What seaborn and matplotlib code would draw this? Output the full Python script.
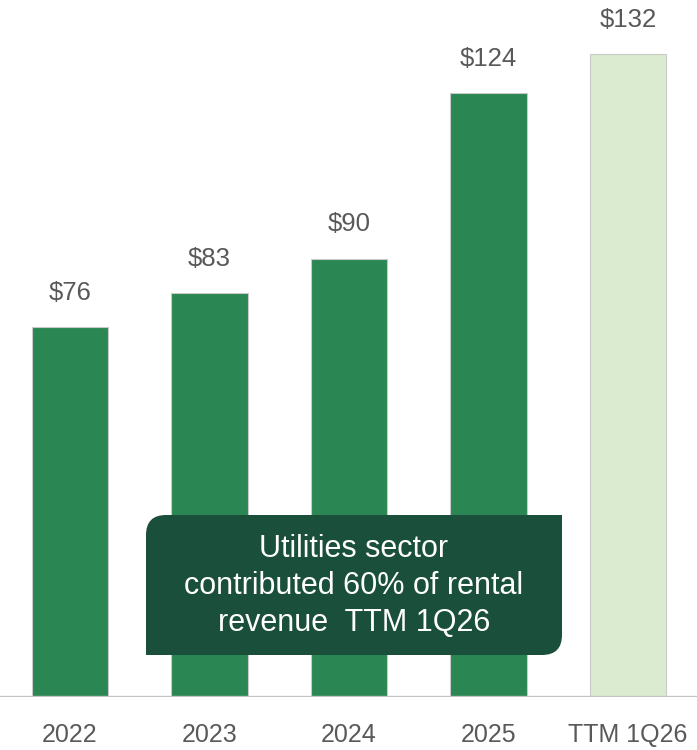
import matplotlib
matplotlib.use("Agg")
import matplotlib.pyplot as plt
import seaborn as sns
import pandas as pd
from matplotlib import font_manager
from matplotlib.path import Path
from matplotlib.patches import PathPatch

categories = ["2022", "2023", "2024", "2025", "TTM 1Q26"]
values = [76, 83, 90, 124, 132]
value_labels = ["$76", "$83", "$90", "$124", "$132"]
bar_colors = ["#2A8753", "#2A8753", "#2A8753", "#2A8753", "#DAEBCF"]
note_lines = ["Utilities sector", "contributed 60% of rental", "revenue  TTM 1Q26"]

sns.set_style("white")

# narrow font for axis text if there is one
names = {f.name for f in font_manager.fontManager.ttflist}
narrow = "Liberation Sans Narrow" if "Liberation Sans Narrow" in names else "Liberation Sans"
plt.rcParams["font.family"] = ["Liberation Sans", "DejaVu Sans"]

df = pd.DataFrame({"period": categories, "revenue": values})

fig = plt.figure(figsize=(6.97, 7.5), dpi=100)
ax = fig.add_axes([0, 53 / 750, 1, 697 / 750])

sns.barplot(data=df, x="period", y="revenue", hue="period", palette=bar_colors,
            legend=False, width=0.55, saturation=1, edgecolor="#C9C9C9",
            linewidth=0.8, ax=ax)

ax.set_xlim(-0.502, 4.495)
ax.set_ylim(0, 143.1)
ax.axhline(0, color="#C4C4C4", linewidth=2.4, zorder=5)
for s in ax.spines.values():
    s.set_visible(False)
ax.set_yticks([])
ax.set_xlabel("")
ax.set_ylabel("")
ax.tick_params(axis="x", length=0, pad=19)
for lab in ax.get_xticklabels():
    lab.set_fontsize(18)
    lab.set_color("#595959")
    lab.set_family(narrow)

for i, (v, t) in enumerate(zip(values, value_labels)):
    ax.annotate(t, (i, v), xytext=(0, 16), textcoords="offset points",
                ha="center", va="bottom", fontsize=18.5, color="#595959", family=narrow)

# note box with two rounded corners (top-left, bottom-right)
W, H = 697, 750
x0, x1, y0, y1, r = 146, 562, H - 655, H - 515, 20
verts = [
    (x0, y0), (x1 - r, y0), (x1, y0), (x1, y0 + r),
    (x1, y1), (x0 + r, y1), (x0, y1), (x0, y1 - r), (x0, y0),
]
codes = [Path.MOVETO, Path.LINETO, Path.CURVE3, Path.CURVE3,
         Path.LINETO, Path.LINETO, Path.CURVE3, Path.CURVE3, Path.CLOSEPOLY]
verts = [(x / W, y / H) for x, y in verts]
box = PathPatch(Path(verts, codes), facecolor="#1A4F3C", edgecolor="none",
                transform=fig.transFigure, zorder=10)
fig.patches.append(box)

for k, line in enumerate(note_lines):
    fig.text(354 / W, 1 - (549 + 37 * k) / H, line, ha="center", va="center",
             fontsize=22, color="white", zorder=11)

fig.savefig("out.png", dpi=100)
